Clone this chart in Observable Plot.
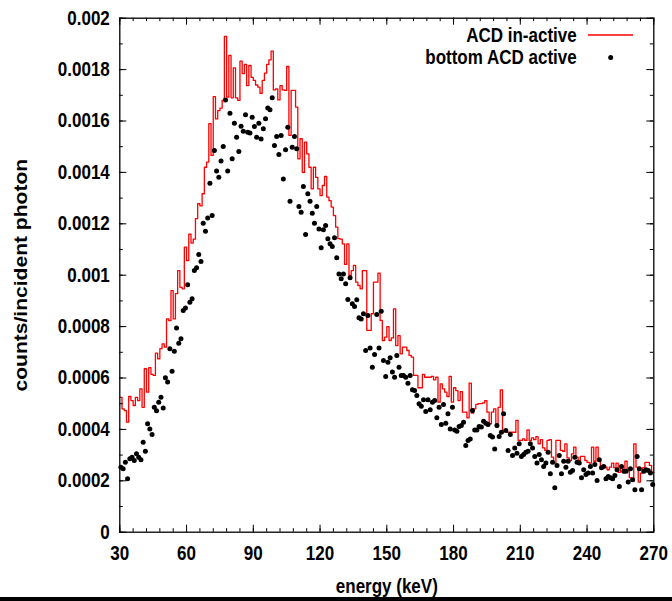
<!DOCTYPE html>
<html>
<head>
<meta charset="utf-8">
<script src="https://cdn.jsdelivr.net/npm/d3@7"></script>
<script src="https://cdn.jsdelivr.net/npm/@observablehq/plot@0.6"></script>
<style>
  body { margin: 0; background: #fff; }
  #wrap { width: 672px; height: 601px; position: relative; overflow: hidden; background: #fff; }
  #chart svg { display: block; }
  #bar { position: absolute; left: 0; top: 597px; width: 672px; height: 4px; background: #000; }
</style>
</head>
<body>
<div id="wrap"><div id="chart"></div><div id="bar"></div></div>
<script>
// ---- data (counts per incident photon, in units of 1e-4), 1 keV bins from 30 to 270 keV ----
const UNIT = 1e-4;
const binStart = d3.range(30, 270);          // lower edge of each 1 keV bin
const binEnd = 270;                          // upper edge of the last bin
const acdInactive = [
  5.25,4.8,4.73,4.28,5.28,5.12,4.93,5.25,5.12,5.58,
  4.86,6.36,5.45,6.4,6.14,6.1,6.97,6.75,7.14,7.33,
  7.2,8.3,8.23,9.4,8.3,9.28,10.18,9.53,9.47,11.09,
  10.57,11.6,11.25,11.4,12.2,12.78,12.7,13.17,14.2,14.4,
  15.9,14.66,16.95,16.08,16.4,16.5,16.8,19.29,16.93,18.55,
  16.9,18.07,16.9,16.8,18.33,17.84,18.2,17.38,18.16,17.7,
  17.58,17.4,17.32,17.08,17.58,17.86,18.2,18.38,18.72,17.21,
  17.25,16.82,17.38,17.21,17.19,18.12,15.44,17.19,17.19,16.54,
  14.53,15.31,14.0,15.18,14.72,14.2,13.36,14.2,13.81,13.36,
  13.1,13.49,13.84,13.04,12.9,12.65,12.32,11.87,11.42,11.4,
  11.22,10.42,11.22,9.99,10.18,10.38,9.73,9.6,9.47,10.18,
  10.18,7.85,7.85,8.5,9.73,9.73,10.08,8.24,7.46,7.59,
  8.0,7.46,7.56,8.69,7.26,7.65,6.94,7.2,7.2,7.07,
  6.88,6.81,6.1,6.1,5.62,5.62,6.14,6.03,6.03,6.03,
  6.06,5.93,6.03,5.06,5.77,5.58,5.45,5.28,6.06,5.06,
  5.62,5.51,5.12,5.47,4.67,4.67,4.45,5.8,4.63,4.8,
  4.97,5.0,5.0,5.03,5.12,4.67,4.22,4.67,4.8,4.09,
  4.86,5.54,3.96,3.96,3.89,3.89,3.89,3.89,4.35,3.57,
  3.57,3.63,3.57,3.98,3.57,3.67,3.6,3.72,3.44,3.6,
  3.28,3.18,3.57,3.6,2.92,2.69,3.57,3.57,3.18,3.15,
  3.44,2.89,2.79,3.05,3.31,2.92,2.79,2.95,2.95,2.79,
  2.72,2.69,3.31,2.76,3.31,2.79,2.53,2.6,2.53,2.43,
  2.53,2.69,2.51,2.69,2.33,2.56,2.4,2.76,2.4,2.12,
  1.98,3.44,2.53,1.95,2.3,2.51,2.72,2.72,2.6,2.33
];
const bottomAcdActive = [
  2.53,2.47,2.72,2.08,2.86,2.92,2.79,3.05,2.92,2.82,
  3.5,3.15,4.22,4.02,3.8,4.86,4.73,5.06,5.25,4.83,
  6.01,5.84,7.14,6.26,7.04,7.95,7.35,7.53,8.63,8.72,
  9.63,8.95,9.08,10.18,10.29,10.81,10.53,12.02,11.71,12.23,
  13.58,12.32,14.85,14.05,13.81,14.44,15.01,16.82,14.05,16.3,
  14.53,15.91,15.37,14.81,15.8,15.6,16.24,15.56,15.53,16.15,
  15.79,15.37,15.91,15.3,15.7,16.09,16.51,16.44,16.9,15.05,
  15.4,14.7,15.44,13.74,14.88,15.76,12.88,14.98,15.4,14.92,
  12.67,12.45,13.45,11.58,13.17,12.88,12.41,12.02,12.67,11.8,
  11.07,11.77,11.93,11.42,11.22,11.12,11.46,10.68,10.05,9.86,
  10.05,9.67,9.05,9.9,8.89,8.78,9.04,8.34,8.3,8.5,
  7.07,8.43,7.17,6.42,6.91,8.47,7.17,8.6,6.68,6.06,
  6.61,6.79,6.23,6.03,6.88,6.42,6.1,6.1,6.03,5.8,
  6.1,5.54,5.51,5.32,5.0,4.9,5.15,4.7,5.15,4.76,
  5.06,5.12,4.45,4.86,4.19,4.97,4.24,4.61,4.02,4.86,
  3.98,3.93,4.11,4.15,4.28,3.37,3.57,3.63,4.74,3.98,
  3.98,4.11,4.09,4.32,4.24,4.19,3.76,3.7,3.24,4.15,
  3.72,3.89,4.61,3.96,3.18,3.8,2.98,3.28,3.07,3.44,
  2.95,3.02,3.11,3.15,3.44,3.28,2.95,2.69,3.02,2.82,
  2.56,2.69,3.11,2.27,2.72,1.73,2.6,2.98,2.27,2.76,
  2.53,2.76,2.33,2.4,2.92,2.72,2.69,2.12,2.43,2.25,
  2.3,2.56,2.3,2.63,2.01,2.82,2.51,2.56,2.08,2.17,
  2.12,2.08,2.21,2.43,1.78,2.56,2.37,2.37,1.95,2.47,
  2.04,1.65,2.95,2.47,1.65,2.37,2.43,2.4,2.3,1.86
];

// ---- ticks and labels ----
const xTicks = [30, 60, 90, 120, 150, 180, 210, 240, 270];
const xMinorTicks = d3.range(30, 271, 6);
const yTicks = [0, 0.0002, 0.0004, 0.0006, 0.0008, 0.001, 0.0012, 0.0014, 0.0016, 0.0018, 0.002];
const yTickLabels = ["0", "0.0002", "0.0004", "0.0006", "0.0008", "0.001", "0.0012", "0.0014", "0.0016", "0.0018", "0.002"];
const yMinorTicks = d3.range(0, 21).map(i => i * 0.0001);
const xLabel = "energy (keV)";
const yLabel = "counts/incident photon";
const seriesNames = ["ACD in-active", "bottom ACD active"];

// ---- build mark data ----
const stepData = binStart.map((e, i) => ({x: e, y: acdInactive[i] * UNIT}))
  .concat([{x: binEnd, y: acdInactive[acdInactive.length - 1] * UNIT}]);
const pointData = binStart.map((e, i) => ({x: e + 0.5, y: bottomAcdActive[i] * UNIT}));

// ---- layout ----
const W = 672, H = 597;
const mL = 119.3, mR = 18.7, mT = 17.7, mB = 65.3;
const fw = W - mL - mR, fh = H - mT - mB;
const FONT = "'Liberation Sans', Arial, Helvetica, sans-serif";
const majorLen = 7, minorLen = 3.5;
const tickStyle = {stroke: "#000", strokeWidth: 1};
const txt = {fontWeight: "bold", fontSize: 17, fill: "#000"};
const STRETCH = 1.17; // the reference's lettering is drawn taller than wide

const chart = Plot.plot({
  width: W, height: H,
  marginLeft: mL, marginRight: mR, marginTop: mT, marginBottom: mB,
  x: {domain: [30, 270], axis: null},
  y: {domain: [0, 0.002], axis: null},
  style: {fontFamily: FONT, background: "#fff", color: "#000", overflow: "visible"},
  marks: [
    Plot.line(stepData, {x: "x", y: "y", curve: "step-after", stroke: "#ff0000", strokeWidth: 1.3}),
    Plot.dot(pointData, {x: "x", y: "y", r: 2.5, fill: "#000", stroke: null}),
    // inward ticks on all four sides
    Plot.tickX(xMinorTicks, {x: d => d, insetTop: fh - minorLen, ...tickStyle}),
    Plot.tickX(xMinorTicks, {x: d => d, insetBottom: fh - minorLen, ...tickStyle}),
    Plot.tickX(xTicks, {x: d => d, insetTop: fh - majorLen, ...tickStyle}),
    Plot.tickX(xTicks, {x: d => d, insetBottom: fh - majorLen, ...tickStyle}),
    Plot.tickY(yMinorTicks, {y: d => d, insetRight: fw - minorLen, ...tickStyle}),
    Plot.tickY(yMinorTicks, {y: d => d, insetLeft: fw - minorLen, ...tickStyle}),
    Plot.tickY(yTicks, {y: d => d, insetRight: fw - majorLen, ...tickStyle}),
    Plot.tickY(yTicks, {y: d => d, insetLeft: fw - majorLen, ...tickStyle}),
    Plot.frame({stroke: "#000", strokeWidth: 1.3}),
    // tick labels
    Plot.text(xTicks, {x: d => d, frameAnchor: "bottom", dy: 21, lineAnchor: "middle", text: d => String(d), ...txt}),
    Plot.text(yTicks, {y: d => d, frameAnchor: "left", dx: -10, textAnchor: "end", lineAnchor: "middle", text: (d, i) => yTickLabels[i], ...txt}),
    // axis titles
    Plot.text([xLabel], {frameAnchor: "bottom", dy: 54, lineAnchor: "middle", text: d => d, ...txt}),
    Plot.text([yLabel], {frameAnchor: "left", dx: -99, rotate: -90, textAnchor: "middle", lineAnchor: "middle", text: d => d, ...txt, fontSize: 18})
  ]
});
document.getElementById("chart").appendChild(chart);

// ---- legend (top right, inside the frame) ----
const svg = d3.select(chart);
const lg = svg.append("g").attr("font-family", FONT).attr("font-weight", "bold").attr("font-size", 17);
const textX = 576.7, row1 = 35, row2 = 57.5;
lg.append("text").attr("transform", `translate(${textX},${row1})`).attr("dy", "0.35em").attr("text-anchor", "end").text(seriesNames[0]);
lg.append("line").attr("x1", 588).attr("x2", 633).attr("y1", row1).attr("y2", row1).attr("stroke", "#ff0000").attr("stroke-width", 1.3);
lg.append("text").attr("transform", `translate(${textX},${row2})`).attr("dy", "0.35em").attr("text-anchor", "end").text(seriesNames[1]);
lg.append("circle").attr("cx", 610.7).attr("cy", row2).attr("r", 2.5).attr("fill", "#000");

// ---- stretch lettering vertically, like the reference ----
svg.selectAll("text").each(function () {
  const t = this.getAttribute("transform");
  if (!t) return;
  const rotated = /rotate\(\s*-?90/.test(t);
  this.setAttribute("transform", t + (rotated ? ` scale(${STRETCH},1)` : ` scale(1,${STRETCH})`));
});
</script>
</body>
</html>
